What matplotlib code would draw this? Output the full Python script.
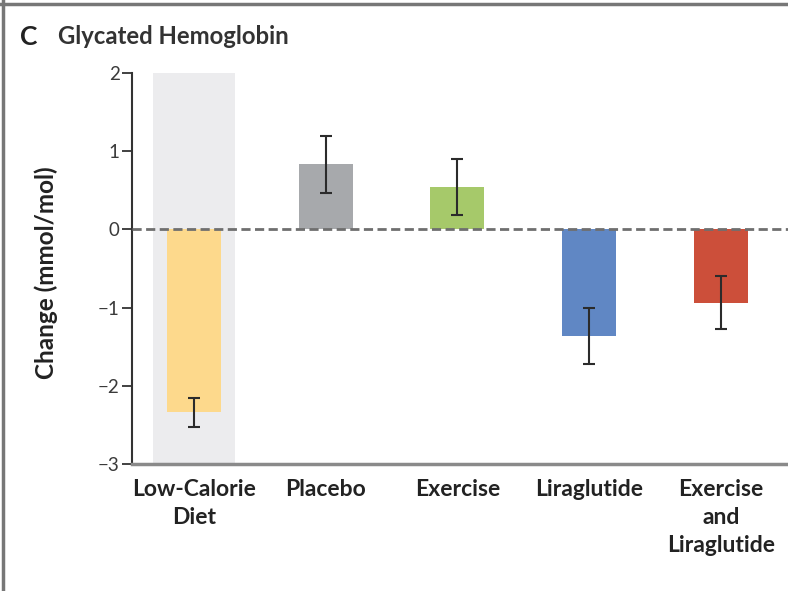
import matplotlib.pyplot as plt

groups = ['Low-Calorie\nDiet', 'Placebo', 'Exercise', 'Liraglutide', 'Exercise\nand\nLiraglutide']
change = [-2.34, 0.83, 0.54, -1.36, -0.94]
ci_half = [0.19, 0.36, 0.36, 0.36, 0.34]
colors = ['#fdd98c', '#a7a9ac', '#a6c96a', '#6087c4', '#cc4f3a']

plt.rcParams['font.family'] = ['Lato', 'DejaVu Sans']

fig = plt.figure(figsize=(7.88, 5.91), dpi=100)
ax = fig.add_axes([0.1675, 0.2149, 0.8325, 0.6616])

x = list(range(len(groups)))
ax.axvspan(-0.31, 0.31, color='#ececee', zorder=0, lw=0)
ax.bar(x, change, width=0.41, color=colors, zorder=2)
ax.errorbar(x, change, yerr=ci_half, fmt='none', ecolor='#2b2b2b',
            elinewidth=1.5, capsize=4.5, capthick=1.5, zorder=4)
ax.axhline(0, color='#6f6f6f', lw=2, ls=(0, (3.3, 1.6)), zorder=3)

ax.set_xlim(-0.47, 4.51)
ax.set_ylim(-3, 2)
ax.set_yticks([-3, -2, -1, 0, 1, 2])
ax.set_yticklabels(['\u22123', '\u22122', '\u22121', '0', '1', '2'])
ax.set_xticks(x)
ax.set_xticklabels(groups, fontweight='bold', fontsize=16.5, color='#222222',
                   linespacing=1.4, va='top')
ax.tick_params(axis='x', length=0, pad=11)
ax.tick_params(axis='y', length=7, width=1.3, color='#333333', labelsize=13.5,
               labelcolor='#3a3a3a', pad=2)

ax.spines['top'].set_visible(False)
ax.spines['right'].set_visible(False)
ax.spines['left'].set_color('#333333')
ax.spines['left'].set_linewidth(1.5)
ax.spines['bottom'].set_color('#8a8a8a')
ax.spines['bottom'].set_linewidth(2.5)

ax.set_ylabel('Change (mmol/mol)', fontsize=17.5, fontweight='bold', color='#222222')
ax.yaxis.set_label_coords(-0.113, 0.49)

fig.text(0.026, 0.938, 'C', fontsize=19, fontweight='bold', color='#222222', va='center')
fig.text(0.073, 0.938, 'Glycated Hemoglobin', fontsize=17.2, fontweight='bold',
         color='#333333', va='center')

# panel frame: top and left rules
fig.add_artist(plt.Line2D([0, 1], [0.993, 0.993], color='#777777', lw=2.5,
                          transform=fig.transFigure))
fig.add_artist(plt.Line2D([0.004, 0.004], [0, 1], color='#777777', lw=2.5,
                          transform=fig.transFigure))

fig.savefig('out.png', dpi=100)
